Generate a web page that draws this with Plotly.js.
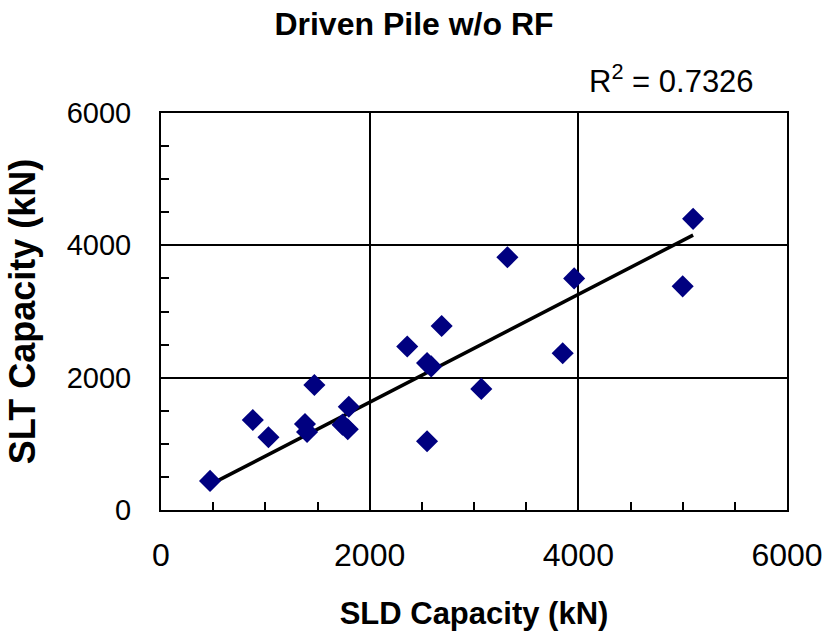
<!DOCTYPE html>
<html>
<head>
<meta charset="utf-8">
<script src="https://cdn.plot.ly/plotly-3.0.1.min.js"></script>
<style>
  html, body { margin: 0; padding: 0; background: #ffffff; }
  #chart { width: 828px; height: 641px; }
</style>
</head>
<body>
<div id="chart"></div>
<script>
// Static load test results: SLD-predicted vs. SLT-measured capacity (kN)
const sldCapacity = [470, 880, 1030, 1380, 1400, 1470, 1740, 1790, 1800, 2360, 2690, 2550, 2590, 2550, 3070, 3320, 3850, 3960, 5000, 5100];
const sltCapacity = [440, 1360, 1100, 1300, 1180, 1890, 1290, 1220, 1560, 2470, 2780, 2220, 2170, 1040, 1830, 3820, 2370, 3500, 3380, 4400];
const axisTicks = [0, 2000, 4000, 6000];
const rSquaredLabel = 'R<sup>2</sup> = 0.7326';

// Linear trendline with the intercept fixed at zero (y = m·x), over the data's x extent
function fitThroughOrigin(xs, ys) {
  let sxy = 0, sxx = 0;
  for (let i = 0; i < xs.length; i++) {
    sxy += xs[i] * ys[i];
    sxx += xs[i] * xs[i];
  }
  return sxy / sxx;
}
const slope = fitThroughOrigin(sldCapacity, sltCapacity);
const trendX = [Math.min(...sldCapacity), Math.max(...sldCapacity)];
const trendY = trendX.map(x => slope * x);

const FONT = '"Liberation Sans", Arial, sans-serif';

const traces = [
  {
    x: trendX, y: trendY, mode: 'lines', type: 'scatter',
    line: { color: '#000000', width: 3.5 },
    hoverinfo: 'skip', showlegend: false
  },
  {
    x: sldCapacity, y: sltCapacity, mode: 'markers', type: 'scatter',
    marker: { symbol: 'diamond', size: 17, color: '#000080', line: { width: 0 } },
    showlegend: false
  }
];

const axisCommon = {
  range: [0, 6000],
  tickvals: axisTicks,
  ticktext: axisTicks.map(String),
  ticks: 'inside', ticklen: 8, tickwidth: 2, tickcolor: '#000000',
  minor: { dtick: 500, ticks: 'inside', ticklen: 8, tickwidth: 2, tickcolor: '#000000', showgrid: false },
  showgrid: true, gridcolor: '#000000', gridwidth: 2,
  showline: true, linecolor: '#000000', linewidth: 2, mirror: true,
  zeroline: false, automargin: false, fixedrange: true
};

const layout = {
  width: 828, height: 641,
  paper_bgcolor: '#ffffff', plot_bgcolor: '#ffffff',
  margin: { l: 161, r: 41, t: 113, b: 131 },
  font: { family: FONT, color: '#000000' },
  title: {
    text: '<b>Driven Pile w/o RF</b>',
    font: { family: FONT, size: 32, color: '#000000' },
    xref: 'container', x: 0.5, xanchor: 'center',
    yref: 'container', y: 1 - 24 / 641, yanchor: 'middle'
  },
  xaxis: Object.assign({}, axisCommon, {
    tickfont: { family: FONT, size: 32, color: '#000000' },
    ticklabelstandoff: 16,
    title: { text: '<b>SLD Capacity (kN)</b>', font: { family: FONT, size: 31, color: '#000000' }, standoff: 30 }
  }),
  yaxis: Object.assign({}, axisCommon, {
    tickfont: { family: FONT, size: 29, color: '#000000' },
    ticklabelstandoff: 22,
    title: { text: '<b>SLT Capacity (kN)</b>', font: { family: FONT, size: 36, color: '#000000' }, standoff: 20 }
  }),
  annotations: [
    {
      text: rSquaredLabel, showarrow: false,
      xref: 'paper', yref: 'paper', x: 0.816, y: 1.086,
      xanchor: 'center', yanchor: 'middle',
      font: { family: FONT, size: 31, color: '#000000' }
    }
  ]
};

Plotly.newPlot('chart', traces, layout, { staticPlot: true, displayModeBar: false });
</script>
</body>
</html>
